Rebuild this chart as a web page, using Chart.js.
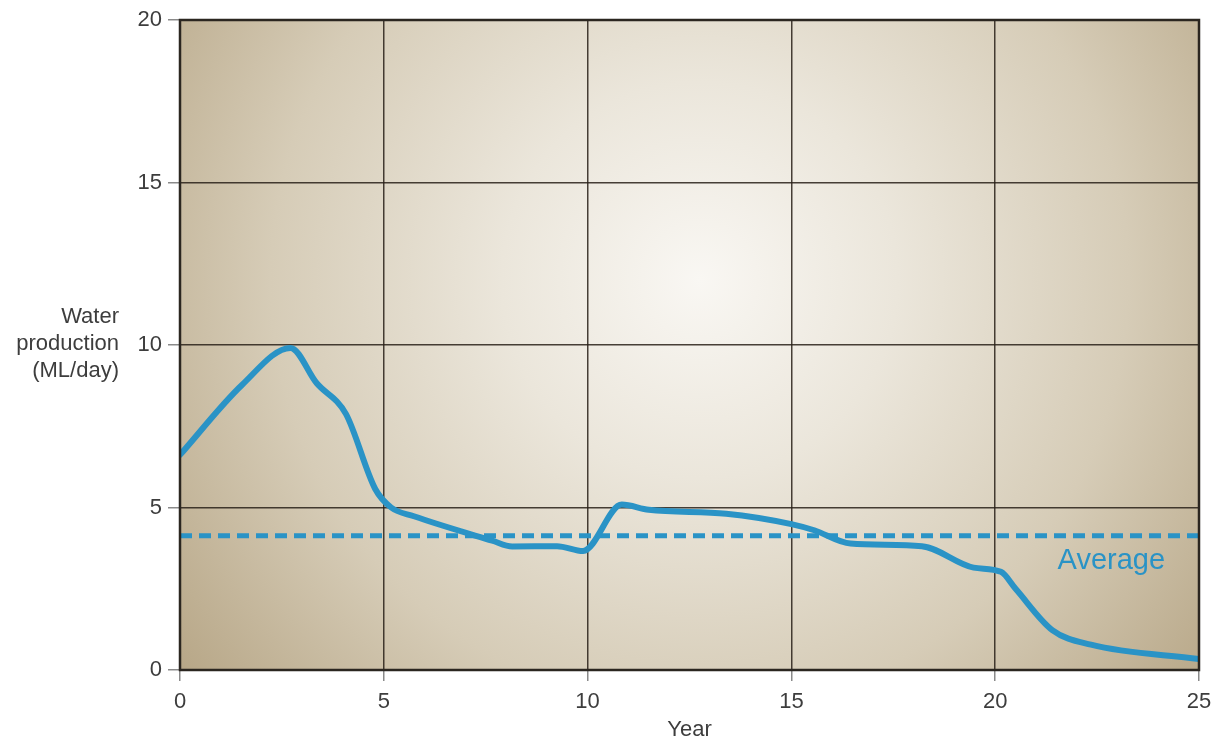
<!DOCTYPE html>
<html>
<head>
<meta charset="utf-8">
<script src="https://cdn.jsdelivr.net/npm/chart.js@4/dist/chart.umd.min.js"></script>
<style>
  html, body { margin: 0; padding: 0; background: #ffffff; }
  #wrap { width: 1216px; height: 738px; position: relative; }
</style>
</head>
<body>
<div id="wrap"><canvas id="c"></canvas></div>
<script>
const years = [0, 1.52, 2.71, 3.35, 4.07, 4.79, 5.18, 5.74, 7.66, 8.15, 9.25, 9.89, 10.84, 11.5, 13.4, 15.0, 15.56, 16.45, 18.2, 19.47, 20.14, 20.5, 21.4, 22.35, 25];
const production = [6.62, 8.77, 9.91, 8.83, 7.88, 5.57, 5.0, 4.73, 3.98, 3.8, 3.81, 3.66, 5.09, 4.93, 4.81, 4.49, 4.3, 3.89, 3.81, 3.15, 3.02, 2.5, 1.23, 0.78, 0.34];
const averageYears = [0, 25];
const averageValue = 4.13;
const averageLabel = 'Average';
const xTicks = [0, 5, 10, 15, 20, 25];
const yTicks = [0, 5, 10, 15, 20];
const yTitleLines = ['Water', 'production', '(ML/day)'];
const xTitle = 'Year';

const FONT = '"Liberation Sans", Arial, sans-serif';
const LINE_COLOR = '#2a93c6';
const TEXT_COLOR = '#3d3d3d';

const bgPlugin = {
  id: 'bg',
  beforeDraw(chart) {
    const { ctx, chartArea: a } = chart;
    const cx = a.left + (a.right - a.left) * 0.51;
    const cy = a.top + (a.bottom - a.top) * 0.40;
    const g = ctx.createRadialGradient(cx, cy, 0, cx, cy, 660);
    g.addColorStop(0, '#f9f7f3');
    g.addColorStop(0.3, '#ebe6db');
    g.addColorStop(0.65, '#d6ccb7');
    g.addColorStop(1, '#b6a585');
    ctx.save();
    ctx.fillStyle = g;
    ctx.fillRect(a.left, a.top, a.right - a.left, a.bottom - a.top);
    ctx.restore();
  }
};

const textPlugin = {
  id: 'texts',
  afterDraw(chart) {
    const { ctx, chartArea: a, scales } = chart;
    ctx.save();
    ctx.strokeStyle = '#2b2620';
    ctx.lineWidth = 2.5;
    ctx.strokeRect(a.left, a.top, a.right - a.left, a.bottom - a.top);
    ctx.fillStyle = TEXT_COLOR;
    ctx.font = '22px ' + FONT;
    ctx.textAlign = 'right';
    ctx.textBaseline = 'middle';
    const yMid = scales.y.getPixelForValue(10);
    yTitleLines.forEach((t, i) => ctx.fillText(t, 119, yMid - 28 + i * 27));
    ctx.fillStyle = LINE_COLOR;
    ctx.font = '29px ' + FONT;
    ctx.textAlign = 'center';
    ctx.fillText(averageLabel, scales.x.getPixelForValue(22.85), scales.y.getPixelForValue(averageValue) + 25);
    ctx.restore();
  }
};

new Chart(document.getElementById('c'), {
  type: 'scatter',
  data: {
    datasets: [
      {
        data: years.map((x, i) => ({ x, y: production[i] })),
        showLine: true,
        borderColor: LINE_COLOR,
        borderWidth: 6,
        pointRadius: 0,
        cubicInterpolationMode: 'monotone',
        borderCapStyle: 'round',
        borderJoinStyle: 'round'
      },
      {
        data: averageYears.map(x => ({ x, y: averageValue })),
        showLine: true,
        borderColor: LINE_COLOR,
        borderWidth: 5,
        borderDash: [12, 7],
        pointRadius: 0
      }
    ]
  },
  options: {
    responsive: true,
    maintainAspectRatio: false,
    animation: false,
    layout: { padding: { top: 20, right: 8, left: 0, bottom: 0 } },
    plugins: { legend: { display: false }, tooltip: { enabled: false } },
    scales: {
      x: {
        type: 'linear',
        min: 0, max: 25,
        afterBuildTicks: s => { s.ticks = xTicks.map(v => ({ value: v })); },
        afterFit: s => { s.height = 68; s.paddingRight = 17; },
        ticks: { color: TEXT_COLOR, font: { family: FONT, size: 22 }, padding: 8, maxRotation: 0 },
        grid: { color: 'rgba(40,32,24,0.85)', lineWidth: 1.5, tickColor: '#8a8a8a', tickLength: 11, tickWidth: 1.5 },
        border: { display: false },
        title: { display: true, text: xTitle, color: TEXT_COLOR, font: { family: FONT, size: 22, lineHeight: 0.7 }, padding: { top: 0, bottom: 0 } }
      },
      y: {
        type: 'linear',
        min: 0, max: 20,
        afterBuildTicks: s => { s.ticks = yTicks.map(v => ({ value: v })); },
        afterFit: s => { s.width = 180; },
        ticks: { color: TEXT_COLOR, font: { family: FONT, size: 22 }, padding: 6 },
        grid: { color: 'rgba(40,32,24,0.85)', lineWidth: 1.5, tickColor: '#8a8a8a', tickLength: 12, tickWidth: 1.5 },
        border: { display: false }
      }
    }
  },
  plugins: [bgPlugin, textPlugin]
});
</script>
</body>
</html>
